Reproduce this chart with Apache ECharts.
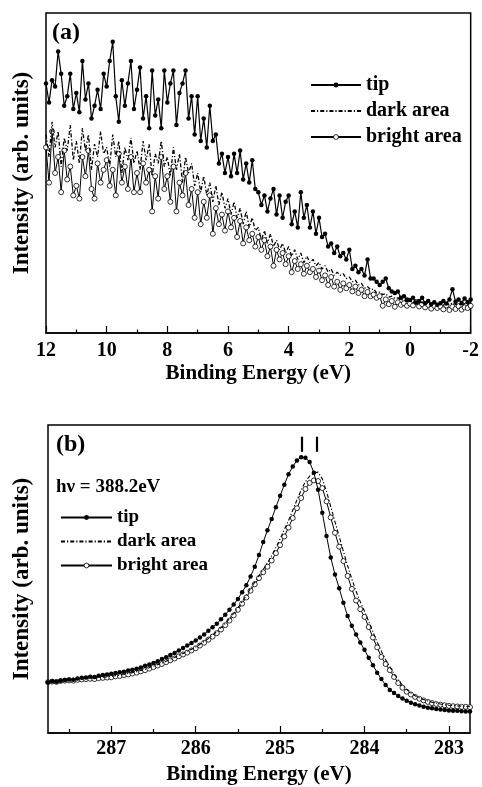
<!DOCTYPE html>
<html>
<head>
<meta charset="utf-8">
<script src="https://cdn.jsdelivr.net/npm/echarts@6/dist/echarts.min.js"></script>
<style>
html,body{margin:0;padding:0;background:#fff;}
#chart{width:482px;height:787px;}
</style>
</head>
<body>
<div id="chart"></div>
<script>
// ---------- Panel (a): valence band, Binding Energy 12 -> -2 eV, step 0.1 eV ----------
const energyStartA = 12.0, energyStepA = -0.1, energyCountA = 141;
const tipA = [
  78,72,79,77,88,81,71,74,81,70,
  75,69,85,73,78,67,71,76,70,81,
  77,85,91,74,66,79,71,78,85,70,
  76,83,67,74,64,82,68,73,64,82,
  72,78,82,65,75,78,82,67,74,62,
  74,60,67,58,71,60,62,53,56,50,
  55,49,56,50,57,48,53,47,54,45,
  44,40,43,38,42,45,37,43,36,41,
  43,34,38,33,44,36,40,33,38,31,
  36,30,31,27,28,25,27,24,25,23,
  26,20,21,19,20,18,23,17,17,16,
  15,16,17,14,13,12.5,13,11,11.5,10.5,
  10.3,11,9.5,10,11,9.3,10,9,9.6,8.8,
  9.3,10,9.2,10.5,13.7,9.8,10.5,9.4,10.8,9.6,10.5
];
const darkA = [
  62,55,66,58,63,52,61,57,65,54,
  60,53,64,57,62,51,59,55,63,56,
  58,52,62,55,60,50,58,54,61,53,
  57,51,60,54,59,49,56,53,60,52,
  55,49,58,51,56,47,55,50,53,46,
  50,44,49,43,47,41,46,40,44,39,
  42,37,41,36,39,34,38,33,36,32,
  33,29,32,28,31,27,29,26,28,25,
  27,24,26,23,25,22,24,22,23,21,
  22,20,21,19,20,18,19,18,18.5,17,
  17.5,16,16.5,15,15.5,14,14.5,13.5,13.8,12.5,
  12.8,12,12.3,11.2,11.5,10.8,11,10.2,10.5,9.8,
  10,9.5,9.8,9.2,9.6,9,9.4,8.8,9.3,8.9,
  9.2,8.7,9.3,8.8,9.4,8.9,9.1,8.6,9.2,8.8,9.3
];
const brightA = [
  58,47,63,50,55,44,57,48,52,43,
  46,42,55,49,57,45,42,53,47,51,
  54,46,51,43,56,47,52,45,55,44,
  50,44,53,47,51,38,49,42,55,45,
  49,41,52,38,47,43,50,40,45,36,
  44,34,41,36,43,31,39,34,37,32,
  38,33,36,30,35,28,33,29,31,27,
  30,26,29,24,27,21,26,23,25,21.5,
  24,19,22.5,20,21.5,18.5,21,19,20,17.5,
  19.5,16.5,18,15,17.5,14.5,16,13.5,15.5,14,
  15,13,14.5,12.5,13.5,11.5,12.8,11.5,12,11,
  11.5,8.5,10.5,9,10,8.2,9.6,8.8,9.3,8.5,
  9.2,8.6,9.7,8.3,9,8,8.8,7.6,8.5,7.8,
  8.3,7.4,8.6,7.2,8.2,7.5,8.4,7.3,8,7.8,8.5
];

// ---------- Panel (b): C 1s, Binding Energy 287.75 -> 282.75 eV, step 0.05 eV ----------
const energyStartB = 287.75, energyStepB = -0.05, energyCountB = 101;
const tipB = [
  16.5,16.8,16.6,17.0,17.2,17.4,17.3,17.7,17.9,18.0,
  18.3,18.2,18.6,18.8,19.0,19.2,19.5,19.7,19.9,20.3,
  20.5,20.9,21.3,21.8,22.2,22.7,23.3,24.0,24.6,25.3,
  26.0,26.8,27.6,28.4,29.2,30.0,31.0,32.0,33.2,34.3,
  35.5,36.9,38.4,40.0,41.7,43.5,45.7,48.0,50.8,54.0,
  57.8,62.0,65.8,69.5,73.3,77.0,80.6,84.0,86.5,88.5,
  89.5,89.4,88.0,84.5,79.0,71.5,64.0,57.0,51.5,47.0,
  42.3,38.0,34.8,32.0,29.4,27.0,24.4,22.0,19.6,17.5,
  15.6,14.0,13.0,12.0,11.2,10.5,9.8,9.3,8.9,8.5,
  8.2,8.0,7.8,7.6,7.5,7.3,7.2,7.2,7.1,7.0,
  7.0
];
const darkB = [
  16.6,16.8,16.9,17.0,17.1,17.3,17.2,17.4,17.6,17.7,
  17.8,17.8,18.0,18.1,18.2,18.4,18.6,18.8,19.0,19.3,
  19.6,19.9,20.3,20.7,21.2,21.7,22.2,22.7,23.3,23.9,
  24.5,25.2,25.8,26.5,27.2,27.9,28.8,29.7,30.7,31.8,
  32.9,34.2,35.6,37.1,38.8,40.6,42.6,44.7,46.9,49.0,
  51.1,53.1,55.2,57.6,60.2,63.0,66.0,69.0,72.3,75.7,
  78.9,81.6,83.4,84.4,84.7,82.5,78.4,73.5,68.6,63.8,
  59.0,54.3,50.0,46.0,42.6,39.5,36.2,32.8,29.5,26.5,
  23.8,21.5,19.2,17.2,15.5,14.1,13.0,12.1,11.4,10.9,
  10.4,10.0,9.7,9.4,9.2,9.0,8.9,8.8,8.7,8.6,
  8.5
];
const brightB = [
  16.5,16.7,16.6,16.9,17.0,17.1,17.0,17.3,17.4,17.5,
  17.6,17.5,17.8,17.9,18.0,18.1,18.4,18.5,18.8,19.0,
  19.3,19.6,20.0,20.4,20.9,21.4,21.9,22.4,23.0,23.6,
  24.2,24.9,25.5,26.1,26.8,27.5,28.4,29.3,30.3,31.3,
  32.4,33.6,35.0,36.5,38.2,40.0,42.0,44.0,46.2,48.3,
  50.3,52.2,54.0,56.0,58.4,61.0,63.8,66.7,69.8,73.0,
  76.3,79.2,81.2,82.0,81.8,79.5,75.2,70.0,65.0,60.5,
  55.8,51.0,46.8,43.0,40.2,37.7,34.4,31.0,27.8,24.7,
  22.4,20.4,18.2,16.2,14.7,13.4,12.5,11.7,11.1,10.6,
  10.1,9.7,9.4,9.2,9.0,8.8,8.7,8.6,8.5,8.5,
  8.4
];
const peakPositionsB = [284.74, 284.57];
const peakMarkRangeB = [91.3, 96.2];

const xTicksA = [-2, 0, 2, 4, 6, 8, 10, 12];
const xTicksB = [283, 284, 285, 286, 287];
const xMinorTicksB = [283.5, 284.5, 285.5, 286.5, 287.5];
const seriesNames = ['tip', 'dark area', 'bright area'];

// ---------- build ----------
function grid(start, step, n) {
  const out = [];
  for (let i = 0; i < n; i++) out.push(+(start + step * i).toFixed(3));
  return out;
}
const energyA = grid(energyStartA, energyStepA, energyCountA);
const energyB = grid(energyStartB, energyStepB, energyCountB);
const pair = (xs, ys) => ys.map((v, i) => [xs[i], v]);

const FONT = "'Liberation Serif','Times New Roman',serif";
const txt = (size) => ({ fontFamily: FONT, fontWeight: 'bold', fontSize: size, color: '#000' });

function xAxisBase(gi) {
  return {
    type: 'value', gridIndex: gi, inverse: true,
    axisLine: { show: true, onZero: false, lineStyle: { color: '#000', width: 1.5 } },
    axisTick: { show: true, inside: true, length: 7, lineStyle: { color: '#000', width: 1.2 } },
    splitLine: { show: false },
    name: 'Binding Energy (eV)', nameLocation: 'middle',
    nameTextStyle: txt(21)
  };
}
function yAxisBase(gi, gap) {
  return {
    type: 'value', gridIndex: gi, min: 0, max: 100,
    axisLine: { show: false }, axisTick: { show: false }, axisLabel: { show: false },
    splitLine: { show: false },
    name: 'Intensity (arb. units)', nameLocation: 'middle', nameRotate: 90, nameGap: gap,
    nameTextStyle: txt(23)
  };
}

function tipSeries(xi, yi, data, lw, extra) {
  return Object.assign({
    name: 'tip', type: 'line', xAxisIndex: xi, yAxisIndex: yi, data: data,
    symbol: 'circle', symbolSize: 4.5, z: 5,
    itemStyle: { color: '#000' }, lineStyle: { color: '#000', width: lw }
  }, extra || {});
}
function darkSeries(xi, yi, data, lw) {
  return {
    name: 'dark area', type: 'line', xAxisIndex: xi, yAxisIndex: yi, data: data,
    symbol: 'none', z: 4,
    itemStyle: { color: '#000' }, lineStyle: { color: '#000', width: lw, type: [4, 2, 1.2, 2] }
  };
}
function brightSeries(xi, yi, data) {
  return {
    name: 'bright area', type: 'line', xAxisIndex: xi, yAxisIndex: yi, data: data,
    symbol: 'circle', symbolSize: 5, z: 3,
    itemStyle: { color: '#fff', borderColor: '#000', borderWidth: 0.8 },
    lineStyle: { color: '#000', width: 1 }
  };
}

const legendData = [
  { name: 'tip' },
  { name: 'dark area', itemStyle: { opacity: 0 } },
  { name: 'bright area', itemStyle: { color: '#fff', borderColor: '#000', borderWidth: 0.8 } }
];

const option = {
  animation: false,
  backgroundColor: '#fff',
  title: [
    { text: '(a)', left: 52, top: 21, padding: 0, textStyle: txt(24) },
    { text: '(b)', left: 56, top: 433, padding: 0, textStyle: txt(24) },
    { text: 'h\u03bd = 388.2eV', left: 56, top: 478, padding: 0, textStyle: txt(19) }
  ],
  legend: [
    { data: legendData, orient: 'vertical', left: 310, top: 75, padding: 0,
      itemWidth: 50, itemHeight: 6, itemGap: 6, textStyle: txt(20), selectedMode: false },
    { data: legendData, orient: 'vertical', left: 60, top: 508, padding: 0,
      itemWidth: 51, itemHeight: 6, itemGap: 5, textStyle: txt(19), selectedMode: false }
  ],
  grid: [
    { left: 46, top: 13, width: 427, height: 320, show: true, borderColor: '#000', borderWidth: 1.5, containLabel: false },
    { left: 48, top: 425, width: 422, height: 308, show: true, borderColor: '#000', borderWidth: 1.5, containLabel: false }
  ],
  xAxis: [
    Object.assign(xAxisBase(0), {
      min: xTicksA[0], max: xTicksA[xTicksA.length - 1], interval: 2,
      minorTick: { show: true, splitNumber: 2, length: 3.5, lineStyle: { color: '#000', width: 1.2 } },
      axisLabel: Object.assign({ show: true, margin: 8 }, txt(20)),
      nameGap: 30
    }),
    Object.assign(xAxisBase(1), {
      min: energyB[energyB.length - 1], max: energyB[0],
      axisTick: { show: true, inside: true, length: 7, customValues: xTicksB, lineStyle: { color: '#000', width: 1.2 } },
      axisLabel: Object.assign({ show: true, margin: 6, customValues: xTicksB }, txt(20)),
      nameGap: 31
    }),
    {
      type: 'value', gridIndex: 1, inverse: true, position: 'bottom',
      min: energyB[energyB.length - 1], max: energyB[0],
      axisLine: { show: false }, axisLabel: { show: false }, splitLine: { show: false },
      axisTick: { show: true, inside: true, length: 4, customValues: xMinorTicksB, lineStyle: { color: '#000', width: 1.2 } }
    }
  ],
  yAxis: [ yAxisBase(0, 12), yAxisBase(1, 14) ],
  series: [
    brightSeries(0, 0, pair(energyA, brightA)),
    darkSeries(0, 0, pair(energyA, darkA), 1.3),
    tipSeries(0, 0, pair(energyA, tipA), 1.2),
    brightSeries(1, 1, pair(energyB, brightB)),
    darkSeries(1, 1, pair(energyB, darkB), 1.1),
    tipSeries(1, 1, pair(energyB, tipB), 1, {
      markLine: {
        silent: true, symbol: 'none', label: { show: false },
        lineStyle: { color: '#000', width: 2.2, type: 'solid' },
        data: peakPositionsB.map(p => [
          { coord: [p, peakMarkRangeB[0]] },
          { coord: [p, peakMarkRangeB[1]] }
        ])
      }
    })
  ]
};

const chart = echarts.init(document.getElementById('chart'), null, { renderer: 'canvas' });
chart.setOption(option);
</script>
</body>
</html>
